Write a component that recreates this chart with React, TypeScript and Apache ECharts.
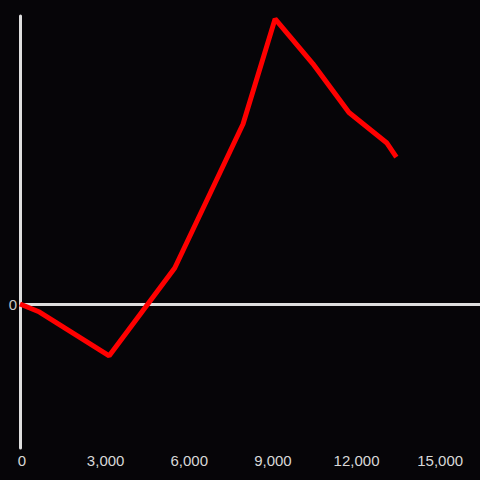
import React, { useEffect, useRef } from "react";
import * as echarts from "echarts";

const xValues = [0, 700, 3200, 5550, 8000, 9150, 10500, 11800, 13150, 13500];
const yValues = [0, -2.8, -18, 12.5, 62.5, 99, 83.5, 66.5, 56, 51];
const xTickInterval = 3000;

export default function App() {
  const ref = useRef<HTMLDivElement>(null);
  useEffect(() => {
    if (!ref.current) return;
    const chart = echarts.init(ref.current, null, { renderer: "svg" });
    const data = xValues.map((x, i) => [x, yValues[i]]);
    chart.setOption({
      animation: false,
      backgroundColor: "#060508",
      textStyle: { fontFamily: "Liberation Sans, Arial, sans-serif" },
      grid: { left: 20, right: 0, top: 16, bottom: 32, containLabel: false },
      xAxis: {
        type: "value",
        min: 0,
        max: 16500,
        interval: xTickInterval,
        axisLine: { show: false },
        axisTick: { show: false },
        splitLine: { show: false },
        axisLabel: {
          color: "#d8d8d8",
          fontSize: 15,
          margin: 5,
          padding: [0, 0, 0, 4],
          showMaxLabel: false,
          formatter: (v: number) => v.toLocaleString("en-US"),
        },
      },
      yAxis: {
        type: "value",
        min: -50,
        max: 100,
        interval: 50,
        axisLine: { show: true, lineStyle: { color: "#dedede", width: 3 } },
        axisTick: { show: false },
        splitLine: { show: false },
        axisLabel: {
          color: "#c8c8c8",
          fontSize: 15,
          margin: 3,
          formatter: (v: number) => (v === 0 ? "0" : ""),
        },
      },
      series: [
        {
          type: "line",
          data,
          showSymbol: false,
          symbol: "none",
          lineStyle: { color: "#ff0000", width: 5 },
          z: 3,
          markLine: {
            silent: true,
            symbol: "none",
            label: { show: false },
            lineStyle: { color: "#dedede", width: 3, type: "solid" },
            data: [{ yAxis: 0 }],
            z: 1,
          },
        },
      ],
    });
    return () => chart.dispose();
  }, []);
  return (
    <div
      ref={ref}
      style={{ position: "fixed", left: 0, top: 0, width: 480, height: 480 }}
    />
  );
}
